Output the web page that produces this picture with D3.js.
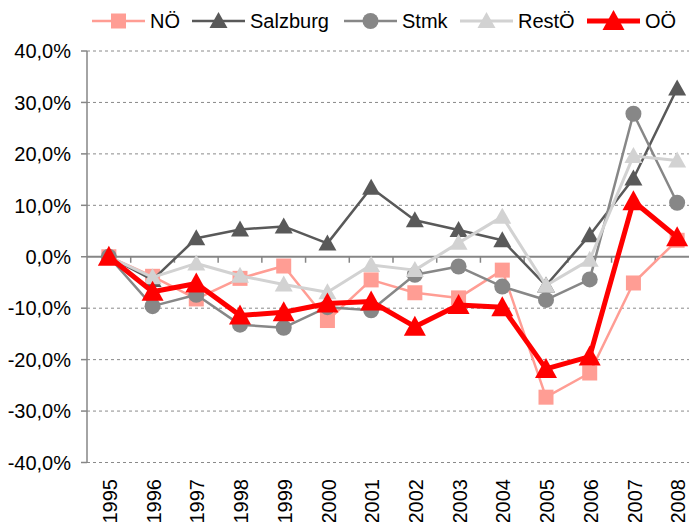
<!DOCTYPE html>
<html lang="de">
<head>
    <meta charset="utf-8" />
    <title>Veränderung je Bundesland</title>
    <script src="https://d3js.org/d3.v7.min.js"></script>
    <style>
        body { margin: 0; background: #fff; }
        svg { display: block; font-family: "Liberation Sans", Arial, sans-serif; }
    </style>
</head>
<body>
    <script>
        var w = 689;
        var h = 522;

        // data (percent change vs 1995)
        var years = ["1995", "1996", "1997", "1998", "1999", "2000", "2001", "2002", "2003", "2004", "2005", "2006", "2007", "2008"];
        var noe = [0, -3.8, -8.2, -4.2, -1.8, -12.4, -4.5, -7.0, -8.0, -2.6, -27.3, -22.6, -5.1, 3.2];
        var salzburg = [0, -4.5, 3.6, 5.3, 5.9, 2.6, 13.4, 7.1, 5.2, 3.2, -5.6, 4.2, 15.2, 32.7];
        var stmk = [0, -9.6, -7.4, -13.2, -13.8, -9.8, -10.4, -3.5, -1.9, -5.8, -8.4, -4.4, 27.8, 10.5];
        var restoe = [0, -4.0, -1.3, -3.7, -5.4, -6.9, -1.6, -2.6, 2.7, 7.8, -5.6, -0.6, 19.6, 18.7];
        var ooe = [0, -6.8, -5.2, -11.4, -10.8, -9.1, -8.7, -13.6, -9.4, -9.8, -21.8, -19.4, 10.8, 3.8];
        var yTicks = [40, 30, 20, 10, 0, -10, -20, -30, -40];

        var series = [
            { name: "NÖ", values: noe, color: "#ff9d94", width: 2.5, marker: "square" },
            { name: "Salzburg", values: salzburg, color: "#595959", width: 2.5, marker: "triangle" },
            { name: "Stmk", values: stmk, color: "#878787", width: 2.5, marker: "circle" },
            { name: "RestÖ", values: restoe, color: "#d2d2d2", width: 3, marker: "triangle" },
            { name: "OÖ", values: ooe, color: "#ff0000", width: 5, marker: "bigtriangle" }
        ];

        var xScale = d3.scaleBand()
            .domain(years)
            .range([87, 699]);

        var yScale = d3.scaleLinear()
            .domain([-40, 40])
            .range([462.5, 51]);

        function cx(d) {
            return xScale(d) + xScale.bandwidth() / 2;
        }

        var svg = d3.select("body")
            .append("svg")
            .attr("width", w)
            .attr("height", h);

        // gridlines
        svg.selectAll("line.grid")
            .data(yTicks.filter(function (d) { return d !== 0; }))
            .enter()
            .append("line")
            .attr("class", "grid")
            .attr("x1", 87)
            .attr("x2", w)
            .attr("y1", function (d) { return yScale(d); })
            .attr("y2", function (d) { return yScale(d); })
            .attr("stroke", "#8a8a8a")
            .attr("stroke-width", 1)
            .attr("stroke-dasharray", "3,3");

        // y axis
        svg.append("line")
            .attr("x1", 87).attr("x2", 87)
            .attr("y1", yScale(40)).attr("y2", yScale(-40))
            .attr("stroke", "#868686")
            .attr("stroke-width", 1.5);

        svg.selectAll("line.ytick")
            .data(yTicks)
            .enter()
            .append("line")
            .attr("class", "ytick")
            .attr("x1", 81).attr("x2", 87)
            .attr("y1", function (d) { return yScale(d); })
            .attr("y2", function (d) { return yScale(d); })
            .attr("stroke", "#868686")
            .attr("stroke-width", 1.5);

        svg.selectAll("text.ylab")
            .data(yTicks)
            .enter()
            .append("text")
            .attr("class", "ylab")
            .attr("x", 71)
            .attr("y", function (d) { return yScale(d); })
            .attr("dy", "0.36em")
            .attr("text-anchor", "end")
            .attr("font-size", "20px")
            .attr("fill", "#000")
            .text(function (d) { return d.toFixed(1).replace(".", ",") + "%"; });

        // zero line with category ticks
        svg.append("line")
            .attr("x1", 87).attr("x2", w)
            .attr("y1", yScale(0)).attr("y2", yScale(0))
            .attr("stroke", "#868686")
            .attr("stroke-width", 2);

        svg.selectAll("line.xtick")
            .data(years.slice(1))
            .enter()
            .append("line")
            .attr("class", "xtick")
            .attr("x1", function (d) { return xScale(d); })
            .attr("x2", function (d) { return xScale(d); })
            .attr("y1", yScale(0))
            .attr("y2", yScale(0) + 6)
            .attr("stroke", "#868686")
            .attr("stroke-width", 1.5);

        // year labels, rotated
        svg.selectAll("text.xlab")
            .data(years)
            .enter()
            .append("text")
            .attr("class", "xlab")
            .attr("transform", function (d) { return "translate(" + (cx(d) + 1) + ",479) rotate(-90)"; })
            .attr("dy", "0.36em")
            .attr("text-anchor", "end")
            .attr("font-size", "20px")
            .attr("fill", "#000")
            .text(function (d) { return d; });

        var line = d3.line()
            .x(function (d, i) { return cx(years[i]); })
            .y(function (d) { return yScale(d); });

        function drawMarker(g, type, color) {
            if (type === "square") {
                g.append("rect")
                    .attr("x", -7.5).attr("y", -7.5)
                    .attr("width", 15).attr("height", 15)
                    .attr("fill", color);
            } else if (type === "circle") {
                g.append("circle")
                    .attr("r", 8)
                    .attr("fill", color);
            } else if (type === "triangle") {
                g.append("path")
                    .attr("d", "M0,-9L9,7L-9,7Z")
                    .attr("fill", color);
            } else {
                g.append("path")
                    .attr("d", "M0,-11L11,9L-11,9Z")
                    .attr("fill", color);
            }
        }

        series.forEach(function (s) {
            var g = svg.append("g");
            g.append("path")
                .datum(s.values)
                .attr("d", line)
                .attr("fill", "none")
                .attr("stroke", s.color)
                .attr("stroke-width", s.width)
                .attr("stroke-linejoin", "round");

            g.selectAll("g.pt")
                .data(s.values)
                .enter()
                .append("g")
                .attr("class", "pt")
                .attr("transform", function (d, i) { return "translate(" + cx(years[i]) + "," + yScale(d) + ")"; })
                .each(function () { drawMarker(d3.select(this), s.marker, s.color); });
        });

        // legend
        var legendX = [92, 192, 344, 460, 587];
        var legend = svg.selectAll("g.legend")
            .data(series)
            .enter()
            .append("g")
            .attr("class", "legend")
            .attr("transform", function (d, i) { return "translate(" + legendX[i] + ",21)"; });

        legend.append("line")
            .attr("x1", 0).attr("x2", 53)
            .attr("y1", 0).attr("y2", 0)
            .attr("stroke", function (d) { return d.color; })
            .attr("stroke-width", function (d) { return d.width; });

        legend.append("g")
            .attr("transform", "translate(26.5,0)")
            .each(function (d) { drawMarker(d3.select(this), d.marker, d.color); });

        legend.append("text")
            .attr("x", 58)
            .attr("dy", "0.36em")
            .attr("font-size", "20px")
            .attr("fill", "#000")
            .text(function (d) { return d.name; });
    </script>
</body>
</html>
